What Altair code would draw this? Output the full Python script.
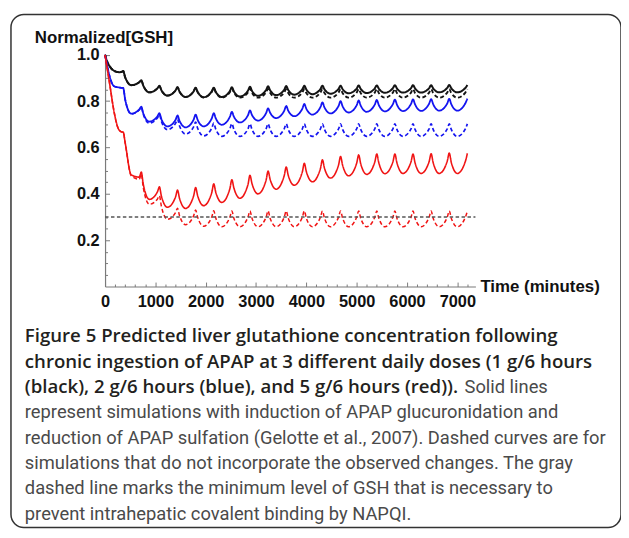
import altair as alt
import pandas as pd

# ---------------- data ----------------
# sample times: first interval, then 4 samples per 6-hour dosing interval, then end
T_FIRST = [0, 40, 100, 180, 280, 340]
DOSE_INTERVAL = 360
CYCLE_OFFSETS = [0, 40, 160, 320]
T_END = 7200
TIMES = T_FIRST + [DOSE_INTERVAL * k + o for k in range(1, 20) for o in CYCLE_OFFSETS] + [T_END]

BLACK_SOLID = [
    1.000, 0.972, 0.948, 0.931, 0.925, 0.927,
    0.930, 0.903, 0.869, 0.882,
    0.890, 0.867, 0.838, 0.855,
    0.866, 0.847, 0.824, 0.846,
    0.860, 0.841, 0.818, 0.842,
    0.858, 0.840, 0.817, 0.842,
    0.858, 0.840, 0.818, 0.843,
    0.860, 0.842, 0.820, 0.845,
    0.862, 0.844, 0.823, 0.848,
    0.864, 0.847, 0.826, 0.849,
    0.865, 0.848, 0.828, 0.851,
    0.866, 0.850, 0.830, 0.852,
    0.867, 0.851, 0.832, 0.853,
    0.867, 0.852, 0.834, 0.854,
    0.868, 0.853, 0.835, 0.855,
    0.868, 0.854, 0.836, 0.856,
    0.869, 0.855, 0.837, 0.856,
    0.869, 0.855, 0.837, 0.856,
    0.869, 0.855, 0.838, 0.857,
    0.870, 0.856, 0.838, 0.857,
    0.870,
]
BLACK_DASHED = [
    1.000, 0.972, 0.948, 0.931, 0.925, 0.927,
    0.930, 0.903, 0.869, 0.882,
    0.890, 0.867, 0.838, 0.855,
    0.866, 0.847, 0.824, 0.846,
    0.860, 0.841, 0.818, 0.842,
    0.858, 0.839, 0.816, 0.840,
    0.856, 0.838, 0.815, 0.839,
    0.855, 0.837, 0.815, 0.838,
    0.854, 0.836, 0.815, 0.838,
    0.853, 0.836, 0.815, 0.837,
    0.852, 0.835, 0.815, 0.837,
    0.852, 0.835, 0.815, 0.837,
    0.852, 0.835, 0.815, 0.837,
    0.852, 0.835, 0.815, 0.837,
    0.852, 0.835, 0.815, 0.837,
    0.852, 0.835, 0.815, 0.837,
    0.852, 0.835, 0.815, 0.837,
    0.852, 0.835, 0.815, 0.837,
    0.852, 0.835, 0.815, 0.837,
    0.852, 0.835, 0.815, 0.837,
    0.852,
]
BLUE_SOLID = [
    1.000, 0.955, 0.900, 0.864, 0.859, 0.857,
    0.857, 0.807, 0.746, 0.764,
    0.776, 0.747, 0.712, 0.734,
    0.748, 0.722, 0.691, 0.719,
    0.738, 0.715, 0.687, 0.720,
    0.742, 0.719, 0.691, 0.725,
    0.748, 0.726, 0.698, 0.732,
    0.754, 0.733, 0.708, 0.739,
    0.760, 0.740, 0.716, 0.748,
    0.769, 0.750, 0.727, 0.758,
    0.779, 0.759, 0.735, 0.767,
    0.788, 0.767, 0.742, 0.774,
    0.795, 0.773, 0.747, 0.779,
    0.800, 0.778, 0.751, 0.782,
    0.803, 0.781, 0.754, 0.785,
    0.805, 0.783, 0.756, 0.787,
    0.807, 0.785, 0.757, 0.788,
    0.808, 0.786, 0.758, 0.789,
    0.809, 0.787, 0.759, 0.790,
    0.810, 0.787, 0.759, 0.791,
    0.811,
]
BLUE_DASHED = [
    1.000, 0.955, 0.900, 0.864, 0.859, 0.857,
    0.857, 0.807, 0.745, 0.762,
    0.774, 0.743, 0.705, 0.727,
    0.742, 0.713, 0.677, 0.704,
    0.722, 0.693, 0.658, 0.689,
    0.710, 0.683, 0.650, 0.683,
    0.705, 0.679, 0.648, 0.681,
    0.703, 0.678, 0.648, 0.680,
    0.702, 0.678, 0.648, 0.680,
    0.702, 0.678, 0.648, 0.680,
    0.702, 0.678, 0.648, 0.680,
    0.702, 0.678, 0.648, 0.680,
    0.702, 0.678, 0.648, 0.680,
    0.702, 0.678, 0.648, 0.680,
    0.702, 0.678, 0.648, 0.680,
    0.702, 0.678, 0.648, 0.680,
    0.702, 0.678, 0.648, 0.680,
    0.702, 0.678, 0.648, 0.680,
    0.702, 0.678, 0.648, 0.680,
    0.702, 0.678, 0.648, 0.680,
    0.702,
]
RED_SOLID = [
    1.000, 0.945, 0.863, 0.753, 0.675, 0.667,
    0.667, 0.620, 0.482, 0.472,
    0.494, 0.441, 0.376, 0.408,
    0.430, 0.390, 0.342, 0.386,
    0.416, 0.380, 0.337, 0.391,
    0.427, 0.392, 0.349, 0.405,
    0.443, 0.407, 0.363, 0.422,
    0.461, 0.425, 0.381, 0.440,
    0.480, 0.444, 0.400, 0.459,
    0.498, 0.463, 0.420, 0.478,
    0.516, 0.480, 0.437, 0.494,
    0.532, 0.496, 0.452, 0.509,
    0.547, 0.511, 0.468, 0.524,
    0.561, 0.524, 0.478, 0.532,
    0.568, 0.530, 0.484, 0.537,
    0.572, 0.534, 0.487, 0.538,
    0.572, 0.534, 0.488, 0.538,
    0.572, 0.534, 0.488, 0.539,
    0.573, 0.535, 0.488, 0.541,
    0.576, 0.536, 0.488, 0.540,
    0.575,
]
RED_DASHED = [
    1.000, 0.945, 0.863, 0.753, 0.675, 0.667,
    0.667, 0.620, 0.478, 0.463,
    0.485, 0.427, 0.355, 0.377,
    0.392, 0.346, 0.290, 0.319,
    0.338, 0.306, 0.267, 0.305,
    0.330, 0.299, 0.260, 0.300,
    0.327, 0.296, 0.258, 0.299,
    0.326, 0.295, 0.258, 0.299,
    0.326, 0.295, 0.258, 0.299,
    0.326, 0.295, 0.258, 0.299,
    0.326, 0.295, 0.258, 0.299,
    0.326, 0.295, 0.258, 0.299,
    0.326, 0.295, 0.258, 0.299,
    0.326, 0.295, 0.258, 0.299,
    0.326, 0.295, 0.258, 0.299,
    0.326, 0.295, 0.258, 0.299,
    0.326, 0.295, 0.258, 0.299,
    0.326, 0.295, 0.258, 0.299,
    0.326, 0.295, 0.258, 0.299,
    0.326, 0.295, 0.258, 0.299,
    0.326,
]

SERIES = ["black solid", "black dashed", "blue solid", "blue dashed", "red solid", "red dashed"]
SERIES_VALUES = [BLACK_SOLID, BLACK_DASHED, BLUE_SOLID, BLUE_DASHED, RED_SOLID, RED_DASHED]
COLORS = ["#141414", "#141414", "#1414f0", "#1414f0", "#f01414", "#f01414"]
DASHES = [[1, 0], [4, 2.5], [1, 0], [4, 2.5], [1, 0], [4, 2.5]]
WIDTHS = [2, 1.5, 2, 1.5, 2, 1.5]

THRESHOLD = 0.3
X_DOMAIN = [0, 7360]
Y_DOMAIN = [0, 1]
X_TICKS = [0, 1000, 2000, 3000, 4000, 5000, 6000, 7000]
X_MINOR = [0, 200, 400, 600, 800, 1000, 1200, 1400, 1600, 1800, 2000, 2200, 2400, 2600,
           2800, 3000, 3200, 3400, 3600, 3800, 4000, 4200, 4400, 4600, 4800, 5000, 5200,
           5400, 5600, 5800, 6000, 6200, 6400, 6600, 6800, 7000, 7200]
Y_TICKS = [0.2, 0.4, 0.6, 0.8, 1.0]
Y_MINOR = [0.05, 0.1, 0.15, 0.2, 0.25, 0.3, 0.35, 0.4, 0.45, 0.5, 0.55, 0.6, 0.65, 0.7,
           0.75, 0.8, 0.85, 0.9, 0.95, 1.0]

Y_TITLE = "Normalized[GSH]"
X_TITLE = "Time (minutes)"
CAPTION_BOLD = [
    "Figure 5 Predicted liver glutathione concentration following",
    "chronic ingestion of APAP at 3 different daily doses (1 g/6 hours",
    "(black), 2 g/6 hours (blue), and 5 g/6 hours (red)).",
]
CAPTION_TAIL = "Solid lines"
CAPTION_REGULAR = [
    "represent simulations with induction of APAP glucuronidation and",
    "reduction of APAP sulfation (Gelotte et al., 2007). Dashed curves are for",
    "simulations that do not incorporate the observed changes. The gray",
    "dashed line marks the minimum level of GSH that is necessary to",
    "prevent intrahepatic covalent binding by NAPQI.",
]

for vals in SERIES_VALUES:
    assert len(vals) == len(TIMES)

rows = []
for name, vals in zip(SERIES, SERIES_VALUES):
    for t, v in zip(TIMES, vals):
        rows.append({"t": t, "v": v, "series": name})
df = pd.DataFrame(rows)
thr_df = pd.DataFrame({"t": X_DOMAIN, "v": [THRESHOLD, THRESHOLD]})

# ---------------- layout ----------------
W, H = 616, 518
PX0, PX1 = 95, 469        # x-scale pixel range inside the frame
PY0, PY1 = 274.7, 40.7    # y-scale pixel range inside the frame
AX_FONT = "Liberation Sans"
CAP_BOLD_FONT = "Open Sans"
CAP_FONT = "Roboto"
AXIS_GRAY = "#7a7a7a"

xscale = alt.Scale(domain=X_DOMAIN, range=[PX0, PX1], nice=False, zero=False)
yscale = alt.Scale(domain=Y_DOMAIN, range=[PY0, PY1], nice=False, zero=False)

lines = alt.Chart(df).mark_line(interpolate="monotone").encode(
    x=alt.X("t:Q", scale=xscale, title=None,
            axis=alt.Axis(orient="bottom", offset=-(H - PY0), values=X_TICKS, format="d",
                          ticks=False, tickSize=0, grid=False, domainColor=AXIS_GRAY,
                          domainWidth=1.2, labelFont=AX_FONT, labelFontSize=16.5,
                          labelFontWeight="bold", labelColor="#111", labelPadding=7,
                          labelFlush=False, labelOverlap=False)),
    y=alt.Y("v:Q", scale=yscale, title=None,
            axis=alt.Axis(orient="left", offset=-PX0, values=Y_TICKS, format=".1f",
                          ticks=False, tickSize=0, grid=False, domainColor=AXIS_GRAY,
                          domainWidth=1.2, labelFont=AX_FONT, labelFontSize=16.5,
                          labelFontWeight="bold", labelColor="#111", labelPadding=6,
                          labelOverlap=False)),
    color=alt.Color("series:N", scale=alt.Scale(domain=SERIES, range=COLORS), legend=None),
    strokeDash=alt.StrokeDash("series:N", scale=alt.Scale(domain=SERIES, range=DASHES), legend=None),
    strokeWidth=alt.StrokeWidth("series:N", scale=alt.Scale(domain=SERIES, range=WIDTHS), legend=None),
)

threshold = alt.Chart(thr_df).mark_line(color="#555555", strokeDash=[3.5, 2.5], strokeWidth=1.5).encode(
    x=alt.X("t:Q", scale=xscale, title=None,
            axis=alt.Axis(orient="top", offset=-PY0, values=X_MINOR, labels=False, domain=False,
                          grid=False, tickColor=AXIS_GRAY, tickWidth=1,
                          tickSize={"condition": {"test": "datum.value % 1000 === 0", "value": 4.5},
                                    "value": 2.5})),
    y=alt.Y("v:Q", scale=yscale, title=None,
            axis=alt.Axis(orient="right", offset=-(W - PX0), values=Y_MINOR, labels=False,
                          domain=False, grid=False, tickColor=AXIS_GRAY, tickWidth=1,
                          tickSize={"condition": {"test": "abs(datum.value * 5 - round(datum.value * 5)) < 0.001",
                                                  "value": 4.5},
                                    "value": 2.5})),
)


def text_layer(s, x, y, size, weight, color, font):
    return alt.Chart(pd.DataFrame({"s": [s]})).mark_text(
        align="left", baseline="alphabetic", font=font, fontSize=size,
        fontWeight=weight, color=color,
    ).encode(text="s:N", x=alt.value(x), y=alt.value(y))


texts = [
    text_layer(Y_TITLE, 24, 28.7, 17, "bold", "#111", AX_FONT),
    text_layer(X_TITLE, 474, 280.7, 17, "bold", "#111", AX_FONT),
]
CAP_X = 14
CAP_Y0 = 331
CAP_DY = 25.6
for i, s in enumerate(CAPTION_BOLD):
    texts.append(text_layer(s, CAP_X, CAP_Y0 + CAP_DY * i, 18.8, 600, "#231f20", CAP_BOLD_FONT))
texts.append(text_layer(CAPTION_TAIL, 458, CAP_Y0 + CAP_DY * 2, 18.5, "normal", "#4a4a4a", CAP_FONT))
for j, s in enumerate(CAPTION_REGULAR):
    texts.append(text_layer(s, CAP_X, CAP_Y0 + CAP_DY * (3 + j), 18.5, "normal", "#4a4a4a", CAP_FONT))

chart = alt.layer(lines, threshold, *texts).resolve_axis(
    x="independent", y="independent"
).properties(
    width=W, height=H,
    autosize=alt.AutoSizeParams(type="none"),
    padding={"left": 3, "top": 4, "right": 0, "bottom": 0},
    background="white",
).configure_view(
    stroke="#333333", strokeWidth=1.5, cornerRadius=13,
)

chart.save("out.html", embed_options={"renderer": "svg", "actions": False})
